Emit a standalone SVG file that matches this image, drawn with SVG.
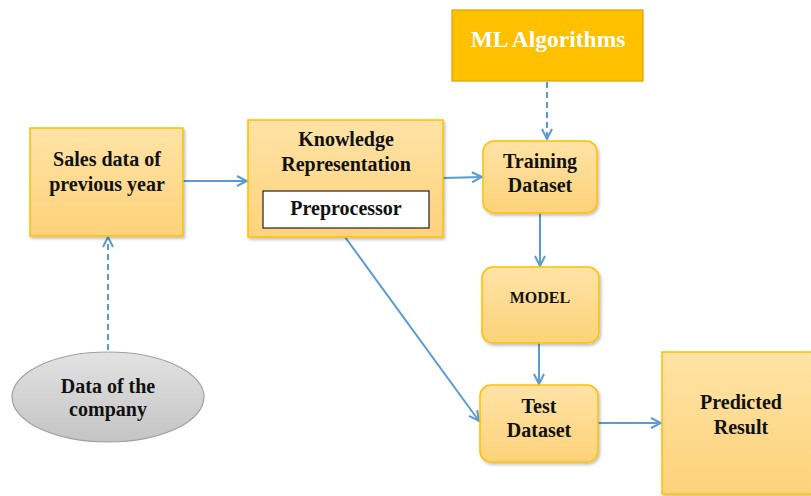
<svg xmlns="http://www.w3.org/2000/svg" width="811" height="496" viewBox="0 0 811 496">
<defs>
<linearGradient id="og" x1="0" y1="0" x2="0" y2="1">
<stop offset="0" stop-color="#FFE3A6"/>
<stop offset="1" stop-color="#FDD27A"/>
</linearGradient>
<linearGradient id="gg" x1="0" y1="0" x2="0" y2="1">
<stop offset="0" stop-color="#E2E2E2"/>
<stop offset="1" stop-color="#C4C4C4"/>
</linearGradient>
<marker id="ah" viewBox="0 0 12 12" refX="11" refY="6" markerWidth="12" markerHeight="12" markerUnits="userSpaceOnUse" orient="auto">
<path d="M1,1 L11,6 L1,11" fill="none" stroke="#5B9BD5" stroke-width="2"/>
</marker>
<filter id="sh" x="-10%" y="-10%" width="130%" height="130%">
<feDropShadow dx="1.5" dy="2" stdDeviation="1.5" flood-color="#000" flood-opacity="0.25"/>
</filter>
</defs>
<style>
.box{fill:url(#og);stroke:#FFC000;stroke-width:1.5}
.t{font-family:"Liberation Serif","Times New Roman",serif;font-weight:bold;fill:#111;text-anchor:middle;font-size:20px}
.c{fill:none;stroke:#5B9BD5;stroke-width:2;marker-end:url(#ah)}
.d{stroke-dasharray:6,4}
</style>
<rect width="811" height="496" fill="#fff"/>
<g id="connectors">
<line class="c" x1="183" y1="181" x2="247" y2="181"/>
<line class="c" x1="443" y1="178" x2="482" y2="177"/>
<line class="c d" x1="547" y1="82" x2="547" y2="139"/>
<line class="c" x1="540" y1="213" x2="540" y2="266"/>
<line class="c" x1="539" y1="343" x2="539" y2="384"/>
<line class="c" x1="345" y1="237" x2="479" y2="421"/>
<line class="c" x1="598" y1="423" x2="661" y2="423"/>
<line class="c d" x1="108" y1="350" x2="108" y2="237"/>
</g>
<g id="sales">
<rect class="box" x="30" y="128" width="153" height="108" filter="url(#sh)"/>
<text class="t" x="107" y="166">Sales data of</text>
<text class="t" x="107" y="191">previous year</text>
</g>
<g id="knowledge">
<rect class="box" x="248" y="120" width="195" height="117" filter="url(#sh)"/>
<text class="t" x="346" y="146">Knowledge</text>
<text class="t" x="346" y="171">Representation</text>
<rect x="263" y="191" width="166" height="37" fill="#fff" stroke="#222" stroke-width="1.2"/>
<text class="t" x="346" y="215">Preprocessor</text>
</g>
<g id="ml">
<rect x="452" y="10" width="191" height="71" fill="#FFC000" stroke="#D9A200" stroke-width="1.2"/>
<text class="t" x="548" y="47" style="fill:#fff;font-size:23.5px">ML Algorithms</text>
</g>
<g id="training">
<rect class="box" x="483" y="141" width="114" height="72" rx="11" filter="url(#sh)"/>
<text class="t" x="540" y="168">Training</text>
<text class="t" x="540" y="192">Dataset</text>
</g>
<g id="model">
<rect class="box" x="482" y="267" width="117" height="76" rx="11" filter="url(#sh)"/>
<text class="t" x="540" y="303" style="font-size:16px">MODEL</text>
</g>
<g id="test">
<rect class="box" x="480" y="385" width="118" height="77" rx="11" filter="url(#sh)"/>
<text class="t" x="539" y="413">Test</text>
<text class="t" x="539" y="437">Dataset</text>
</g>
<g id="predicted">
<rect class="box" x="662" y="352" width="152" height="142" filter="url(#sh)"/>
<text class="t" x="741" y="409">Predicted</text>
<text class="t" x="741" y="434">Result</text>
</g>
<g id="company">
<ellipse cx="108" cy="397" rx="96" ry="45" fill="url(#gg)" stroke="#A0A0A0" stroke-width="1.2"/>
<text class="t" x="108" y="393">Data of the</text>
<text class="t" x="108" y="416">company</text>
</g>
</svg>
